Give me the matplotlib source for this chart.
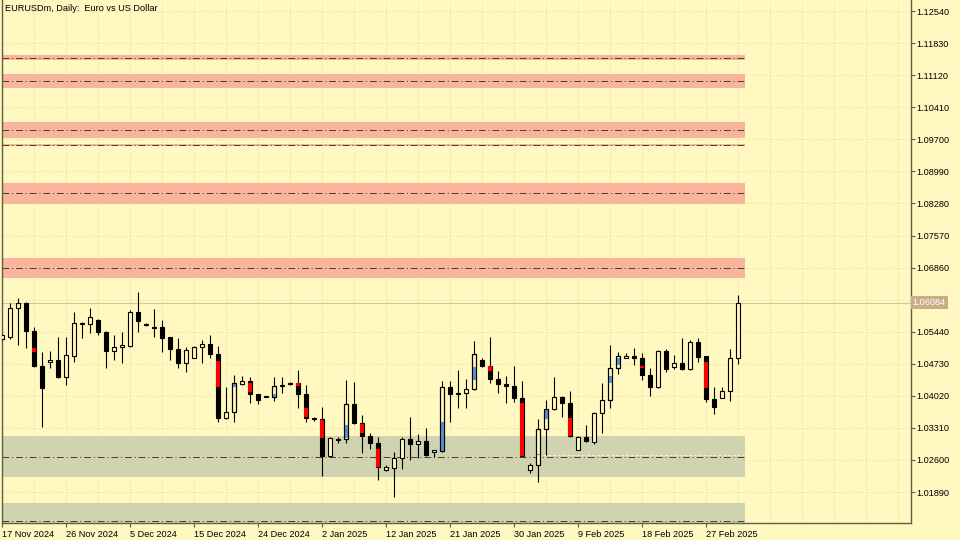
import matplotlib
matplotlib.use("Agg")
import matplotlib.pyplot as plt
import matplotlib.transforms as mtransforms

# --- data (EURUSDm daily bars) ---
opens = [1.0528, 1.0532, 1.0596, 1.0608, 1.0546, 1.0468, 1.0477, 1.0481, 1.0444, 1.0490,
         1.0561, 1.0561, 1.0570, 1.0543, 1.0501, 1.0510, 1.0512, 1.0588, 1.0561, 1.0554,
         1.0554, 1.0532, 1.0506, 1.0475, 1.0486, 1.0510, 1.0517, 1.0495, 1.0353, 1.0366,
         1.0428, 1.0435, 1.0406, 1.0399, 1.0399, 1.0424, 1.0428, 1.0430, 1.0406, 1.0353,
         1.0351, 1.0269, 1.0304, 1.0306, 1.0384, 1.0342, 1.0313, 1.0297, 1.0238, 1.0242,
         1.0264, 1.0306, 1.0295, 1.0302, 1.0278, 1.0280, 1.0422, 1.0406, 1.0408, 1.0417,
         1.0481, 1.0468, 1.0439, 1.0428, 1.0424, 1.0397, 1.0238, 1.0249, 1.0329, 1.0373,
         1.0399, 1.0386, 1.0282, 1.0311, 1.0300, 1.0364, 1.0393, 1.0464, 1.0486, 1.0490,
         1.0486, 1.0448, 1.0422, 1.0501, 1.0466, 1.0475, 1.0461, 1.0521, 1.0490, 1.0395,
         1.0397, 1.0413, 1.0486]
highs = [1.0548, 1.0608, 1.0619, 1.0610, 1.0554, 1.0499, 1.0501, 1.0532, 1.0532, 1.0588,
         1.0565, 1.0596, 1.0572, 1.0546, 1.0537, 1.0543, 1.0592, 1.0632, 1.0563, 1.0594,
         1.0570, 1.0532, 1.0530, 1.0510, 1.0512, 1.0526, 1.0537, 1.0512, 1.0422, 1.0448,
         1.0446, 1.0444, 1.0406, 1.0402, 1.0444, 1.0444, 1.0433, 1.0459, 1.0426, 1.0355,
         1.0377, 1.0311, 1.0311, 1.0437, 1.0433, 1.0360, 1.0320, 1.0311, 1.0249, 1.0278,
         1.0311, 1.0355, 1.0317, 1.0331, 1.0282, 1.0435, 1.0435, 1.0459, 1.0439, 1.0523,
         1.0486, 1.0532, 1.0457, 1.0446, 1.0468, 1.0435, 1.0253, 1.0351, 1.0393, 1.0444,
         1.0402, 1.0413, 1.0313, 1.0337, 1.0366, 1.0430, 1.0515, 1.0499, 1.0497, 1.0508,
         1.0497, 1.0464, 1.0503, 1.0506, 1.0492, 1.0530, 1.0526, 1.0530, 1.0490, 1.0422,
         1.0422, 1.0506, 1.0625]
lows = [1.0521, 1.0528, 1.0515, 1.0508, 1.0466, 1.0333, 1.0464, 1.0441, 1.0426, 1.0477,
        1.0530, 1.0541, 1.0537, 1.0464, 1.0481, 1.0475, 1.0510, 1.0543, 1.0557, 1.0532,
        1.0499, 1.0481, 1.0464, 1.0455, 1.0486, 1.0475, 1.0486, 1.0344, 1.0351, 1.0344,
        1.0426, 1.0386, 1.0384, 1.0399, 1.0391, 1.0408, 1.0426, 1.0375, 1.0344, 1.0346,
        1.0224, 1.0269, 1.0297, 1.0297, 1.0340, 1.0275, 1.0284, 1.0215, 1.0235, 1.0178,
        1.0240, 1.0260, 1.0264, 1.0269, 1.0267, 1.0278, 1.0344, 1.0375, 1.0375, 1.0415,
        1.0466, 1.0430, 1.0408, 1.0386, 1.0388, 1.0269, 1.0231, 1.0211, 1.0271, 1.0371,
        1.0355, 1.0311, 1.0282, 1.0300, 1.0295, 1.0320, 1.0375, 1.0450, 1.0486, 1.0470,
        1.0437, 1.0402, 1.0419, 1.0455, 1.0461, 1.0459, 1.0459, 1.0477, 1.0388, 1.0362,
        1.0397, 1.0391, 1.0472]
closes = [1.0537, 1.0596, 1.0608, 1.0546, 1.0468, 1.0419, 1.0481, 1.0444, 1.0492, 1.0563,
          1.0563, 1.0577, 1.0543, 1.0501, 1.0510, 1.0515, 1.0588, 1.0568, 1.0559, 1.0552,
          1.0530, 1.0506, 1.0475, 1.0503, 1.0510, 1.0517, 1.0495, 1.0353, 1.0366, 1.0430,
          1.0435, 1.0406, 1.0393, 1.0402, 1.0424, 1.0426, 1.0430, 1.0406, 1.0353, 1.0351,
          1.0269, 1.0309, 1.0306, 1.0384, 1.0342, 1.0313, 1.0297, 1.0244, 1.0244, 1.0264,
          1.0306, 1.0295, 1.0302, 1.0271, 1.0282, 1.0422, 1.0406, 1.0408, 1.0417, 1.0495,
          1.0468, 1.0439, 1.0428, 1.0424, 1.0397, 1.0269, 1.0249, 1.0329, 1.0373, 1.0399,
          1.0386, 1.0313, 1.0311, 1.0302, 1.0364, 1.0393, 1.0464, 1.0490, 1.0490, 1.0486,
          1.0448, 1.0422, 1.0501, 1.0461, 1.0475, 1.0461, 1.0521, 1.0488, 1.0395, 1.0377,
          1.0413, 1.0486, 1.06084]

# imbalance highlights inside candle bodies: bar index, low, high
red_bars = [4, 27, 31, 37, 38, 40, 45, 47, 61, 65, 71, 80, 88]
red_lo = [1.0499, 1.0422, 1.0410, 1.0424, 1.0355, 1.0309, 1.0320, 1.0244, 1.0457, 1.0269, 1.0313, 1.0464, 1.0419]
red_hi = [1.0508, 1.0479, 1.0430, 1.0430, 1.0375, 1.0348, 1.0340, 1.0284, 1.0468, 1.0386, 1.0353, 1.0468, 1.0477]
blue_bars = [29, 34, 43, 55, 59, 67, 68, 76, 77]
blue_lo = [1.0422, 1.0399, 1.0309, 1.0280, 1.0437, 1.0271, 1.0351, 1.0430, 1.0470]
blue_hi = [1.0428, 1.0406, 1.0337, 1.0344, 1.0466, 1.0273, 1.0373, 1.0446, 1.0486]

# supply / demand zones
zone_top = [1.11566, 1.11146, 1.10083, 1.09598, 1.08732, 1.07072, 1.03130, 1.01648]
zone_bot = [1.11445, 1.10836, 1.09729, 1.09552, 1.08267, 1.06629, 1.02222, 1.00873]
zone_mid = [1.11507, 1.10991, 1.09906, 1.09574, 1.08511, 1.06850, 1.02676, 1.01260]
zone_kind = ["supply"] * 6 + ["demand"] * 2

price_ticks = [1.01890, 1.02600, 1.03310, 1.04020, 1.04730, 1.05440, 1.06150, 1.06860,
               1.07570, 1.08280, 1.08990, 1.09700, 1.10410, 1.11120, 1.11830, 1.12540]
date_labels = ["17 Nov 2024", "26 Nov 2024", "5 Dec 2024", "15 Dec 2024", "24 Dec 2024",
               "2 Jan 2025", "12 Jan 2025", "21 Jan 2025", "30 Jan 2025", "9 Feb 2025",
               "18 Feb 2025", "27 Feb 2025"]
last_price = 1.06084
fvg_line = 1.0272  # light dashed level starting at bar 67

BG = "#FFF8C0"
SALMON = "#F9B59B"
OLIVE = "#D0D3AF"
FRAME = "#5E5E48"
FONT = "Liberation Sans"
FS = 6.6

fig = plt.figure(figsize=(9.6, 5.4), dpi=100, facecolor=BG)
ax = fig.add_axes([1.5 / 960, 17 / 540, 909.5 / 960, 523 / 540], facecolor=BG)

n = len(opens)
x = list(range(n))
zone_end = n - 1 + 0.9
xmin, xmax = -0.06, 113.6
ax.set_xlim(xmin, xmax)
ax.set_ylim(1.01205, 1.12784)

# grid: every 4 bars / each price tick
for gx in range(0, 114, 4):
    ax.axvline(gx, color="#EDE2A4", lw=0.6, ls=(0, (2, 2)), zorder=0)
for gy in price_ticks:
    ax.axhline(gy, color="#EDE2A4", lw=0.6, ls=(0, (2, 2)), zorder=0)

# zones
for top, bot, mid, kind in zip(zone_top, zone_bot, zone_mid, zone_kind):
    col = SALMON if kind == "supply" else OLIVE
    ax.fill_between([xmin, zone_end], bot, top, color=col, lw=0, zorder=1)
    ax.plot([xmin, zone_end], [mid, mid], color="#4A3A30", lw=0.7,
            ls=(0, (7, 3, 1, 3)), zorder=1.5)
ax.plot([67, zone_end], [fvg_line, fvg_line], color="#F4F0DC", lw=0.7,
        ls=(0, (3, 2)), zorder=1.6)

# last price line
ax.axhline(last_price, color="#D6C49C", lw=0.8, zorder=1.2)

# candles
w = 0.58
ax.vlines(x, lows, highs, color="black", lw=0.8, zorder=2)
for i in range(n):
    o, c = opens[i], closes[i]
    bull = c >= o
    h = max(abs(c - o), 0.00002)
    ax.bar(i, h, bottom=min(o, c), width=w, color=BG if bull else "black",
           edgecolor="black", lw=0.8, zorder=3)
for i, lo, hi in zip(red_bars, red_lo, red_hi):
    ax.bar(i, hi - lo, bottom=lo, width=w, color="#FF0000", lw=0, zorder=4)
for i, lo, hi in zip(blue_bars, blue_lo, blue_hi):
    ax.bar(i, hi - lo, bottom=lo, width=w, color="#5B8ED0", lw=0, zorder=4)
    ax.bar(i, abs(closes[i] - opens[i]), bottom=min(opens[i], closes[i]), width=w,
           facecolor="none", edgecolor="black", lw=0.8, zorder=5)

# axes styling
for s in ["left", "bottom", "right"]:
    ax.spines[s].set_color(FRAME)
    ax.spines[s].set_linewidth(1.0)
ax.spines["top"].set_visible(False)

ax.yaxis.tick_right()
ax.set_yticks(price_ticks)
# the 1.06150 label sits under the current-price box
ax.set_yticklabels(["" if abs(p - last_price) < 0.002 else f"{p:.5f}" for p in price_ticks],
                   fontfamily=FONT)
ax.tick_params(axis="y", direction="out", length=3, width=0.8, color=FRAME,
               labelsize=FS, pad=1, labelcolor="black")

ax.set_xticks([8 * i for i in range(len(date_labels))])
ax.set_xticklabels(date_labels, ha="left", fontfamily=FONT)
ax.tick_params(axis="x", direction="out", length=3, width=0.8, color=FRAME,
               labelsize=FS, pad=2, labelcolor="black")

trans = mtransforms.blended_transform_factory(ax.transAxes, ax.transData)
ax.text(1.002, last_price, "1.06084", transform=trans, va="center", ha="left",
        fontsize=FS, fontfamily=FONT, color="white",
        bbox=dict(boxstyle="square,pad=0.25", fc="#CBAE88", ec="none"), zorder=10,
        clip_on=False)

ax.text(0.004, 0.993, "EURUSDm, Daily:  Euro vs US Dollar", transform=ax.transAxes,
        va="top", ha="left", fontsize=FS, fontfamily=FONT, color="black")

fig.savefig("out.png", dpi=100, facecolor=BG)
